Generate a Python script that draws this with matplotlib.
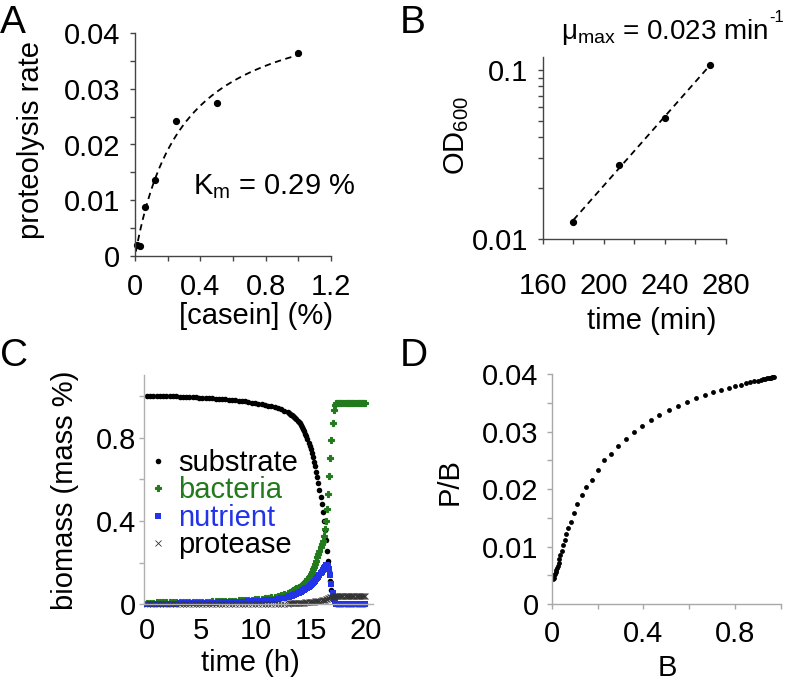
import numpy as np
import matplotlib
matplotlib.use("Agg")
import matplotlib.pyplot as plt
from matplotlib.ticker import FixedLocator, FuncFormatter, NullFormatter

plt.rcParams['font.family'] = ['Liberation Sans', 'DejaVu Sans']
plt.rcParams['mathtext.fontset'] = 'custom'
plt.rcParams['mathtext.rm'] = 'Liberation Sans'
plt.rcParams['mathtext.it'] = 'Liberation Sans'

# panel A: proteolysis rate vs casein
casein = [0.01, 0.03, 0.06, 0.125, 0.25, 0.5, 1.0]
rate = [0.0020, 0.0018, 0.0087, 0.0137, 0.0243, 0.0274, 0.0365]
km = 0.29
vmax = 0.0465

# panel B: growth curve
t_min = [180, 210, 240, 270]
od600 = [0.0127, 0.0275, 0.052, 0.107]

# panel C: simulation, three time blocks (slow phase, transition, plateau)
t_slow = [0.0, 0.3, 0.6, 0.9, 1.2, 1.5, 1.8, 2.1, 2.4, 2.7, 3.0, 3.3, 3.6, 3.9, 4.2,
          4.5, 4.8, 5.1, 5.4, 5.7, 6.0, 6.3, 6.6, 6.9, 7.2, 7.5, 7.8, 8.1, 8.4, 8.7,
          9.0, 9.3, 9.6, 9.9, 10.2, 10.5, 10.8, 11.1, 11.4, 11.7, 12.0, 12.3, 12.6, 12.9]
t_fast = [13.0, 13.1, 13.2, 13.3, 13.4, 13.5, 13.6, 13.7, 13.8, 13.9,
          14.0, 14.1, 14.2, 14.3, 14.4, 14.5, 14.6, 14.7, 14.8, 14.9,
          15.0, 15.1, 15.2, 15.3, 15.4, 15.5, 15.6, 15.7, 15.8, 15.9,
          16.0, 16.1, 16.2, 16.3, 16.4, 16.5, 16.6, 16.7, 16.8, 16.9,
          17.0, 17.1, 17.2, 17.3, 17.4, 17.5]
t_end = [17.6, 17.7, 17.8, 17.9, 18.0, 18.1, 18.2, 18.3, 18.4, 18.5, 18.6, 18.7, 18.8,
         18.9, 19.0, 19.1, 19.2, 19.3, 19.4, 19.5, 19.6, 19.7, 19.8, 19.9, 20.0]

substrate_slow = [1.000, 1.000, 1.000, 0.999, 0.999, 0.999, 0.998, 0.998, 0.997, 0.997,
                  0.996, 0.996, 0.995, 0.994, 0.994, 0.993, 0.992, 0.991, 0.990, 0.989,
                  0.988, 0.987, 0.986, 0.985, 0.983, 0.982, 0.980, 0.979, 0.977, 0.975,
                  0.973, 0.971, 0.968, 0.966, 0.963, 0.960, 0.957, 0.953, 0.950, 0.946,
                  0.941, 0.936, 0.929, 0.921]
substrate_fast = [0.918, 0.914, 0.910, 0.906, 0.902, 0.897, 0.892, 0.887, 0.881, 0.875,
                  0.868, 0.860, 0.851, 0.841, 0.830, 0.818, 0.805, 0.791, 0.776, 0.760,
                  0.743, 0.725, 0.706, 0.685, 0.662, 0.637, 0.610, 0.581, 0.550, 0.516,
                  0.480, 0.441, 0.400, 0.355, 0.307, 0.258, 0.208, 0.158, 0.110, 0.068,
                  0.036, 0.016, 0.006, 0.002, 0.001, 0.000]
substrate_end = [0.0] * len(t_end)

bacteria_slow = [0.008, 0.008, 0.008, 0.009, 0.009, 0.009, 0.009, 0.010, 0.010, 0.010,
                 0.010, 0.011, 0.011, 0.011, 0.011, 0.012, 0.012, 0.012, 0.013, 0.013,
                 0.014, 0.014, 0.015, 0.015, 0.016, 0.017, 0.017, 0.018, 0.019, 0.020,
                 0.020, 0.021, 0.023, 0.024, 0.025, 0.027, 0.029, 0.031, 0.033, 0.036,
                 0.039, 0.043, 0.048, 0.054]
bacteria_fast = [0.056, 0.058, 0.061, 0.064, 0.067, 0.070, 0.073, 0.076, 0.079, 0.082,
                 0.085, 0.088, 0.092, 0.097, 0.102, 0.107, 0.113, 0.120, 0.128, 0.137,
                 0.146, 0.156, 0.167, 0.180, 0.194, 0.209, 0.225, 0.242, 0.258, 0.273,
                 0.288, 0.306, 0.330, 0.362, 0.402, 0.455, 0.530, 0.615, 0.700, 0.790,
                 0.870, 0.930, 0.958, 0.966, 0.968, 0.968]
bacteria_end = [0.968] * len(t_end)

nutrient_slow = [0.000, 0.001, 0.001, 0.001, 0.002, 0.002, 0.002, 0.003, 0.003, 0.003,
                 0.004, 0.004, 0.004, 0.005, 0.005, 0.005, 0.006, 0.006, 0.007, 0.007,
                 0.008, 0.008, 0.009, 0.009, 0.010, 0.010, 0.011, 0.011, 0.012, 0.013,
                 0.013, 0.014, 0.015, 0.016, 0.017, 0.018, 0.019, 0.020, 0.022, 0.023,
                 0.025, 0.028, 0.031, 0.034]
nutrient_fast = [0.036, 0.038, 0.040, 0.042, 0.044, 0.046, 0.048, 0.051, 0.053, 0.056,
                 0.058, 0.061, 0.064, 0.067, 0.070, 0.073, 0.077, 0.080, 0.084, 0.088,
                 0.092, 0.097, 0.102, 0.107, 0.113, 0.119, 0.126, 0.133, 0.141, 0.149,
                 0.157, 0.165, 0.173, 0.181, 0.187, 0.190, 0.186, 0.170, 0.140, 0.098,
                 0.055, 0.025, 0.009, 0.003, 0.001, 0.000]
nutrient_end = [0.0] * len(t_end)

protease_slow = [0.000, 0.000, 0.000, 0.000, 0.000, 0.000, 0.000, 0.000, 0.000, 0.000,
                 0.000, 0.000, 0.000, 0.000, 0.001, 0.001, 0.001, 0.001, 0.001, 0.001,
                 0.001, 0.001, 0.001, 0.001, 0.001, 0.001, 0.001, 0.001, 0.002, 0.002,
                 0.002, 0.002, 0.002, 0.002, 0.002, 0.002, 0.002, 0.003, 0.003, 0.003,
                 0.003, 0.003, 0.003, 0.003]
protease_fast = [0.004, 0.004, 0.005, 0.005, 0.005, 0.005, 0.006, 0.006, 0.006, 0.007,
                 0.007, 0.007, 0.008, 0.008, 0.008, 0.009, 0.009, 0.010, 0.010, 0.011,
                 0.011, 0.012, 0.012, 0.013, 0.014, 0.014, 0.015, 0.016, 0.017, 0.018,
                 0.019, 0.020, 0.022, 0.023, 0.025, 0.027, 0.029, 0.031, 0.033, 0.035,
                 0.037, 0.038, 0.039, 0.040, 0.040, 0.040]
protease_end = [0.040] * len(t_end)

t_h = t_slow + t_fast + t_end
substrate = substrate_slow + substrate_fast + substrate_end
bacteria = bacteria_slow + bacteria_fast + bacteria_end
nutrient = nutrient_slow + nutrient_fast + nutrient_end
protease = protease_slow + protease_fast + protease_end

# panel D: P/B vs B
b_vals = [0.005, 0.008, 0.011, 0.014, 0.017, 0.020, 0.023, 0.026, 0.030, 0.034, 0.038,
          0.043, 0.049, 0.056, 0.064, 0.073, 0.084, 0.097, 0.112, 0.130, 0.150, 0.174,
          0.200, 0.228, 0.258, 0.290, 0.323, 0.358, 0.394, 0.432, 0.470, 0.510, 0.550,
          0.590, 0.630, 0.668, 0.705, 0.740, 0.772, 0.800, 0.825, 0.847, 0.866, 0.883,
          0.898, 0.911, 0.922, 0.932, 0.940, 0.947, 0.953, 0.958, 0.962, 0.965, 0.968]
pb_vals = [0.0044, 0.0046, 0.0050, 0.0053, 0.0056, 0.0059, 0.0063, 0.0067, 0.0072, 0.0078,
           0.0085, 0.0093, 0.0103, 0.0112, 0.0122, 0.0132, 0.0143, 0.0158, 0.0174, 0.0190,
           0.0203, 0.0216, 0.0234, 0.0250, 0.0262, 0.0275, 0.0288, 0.0299, 0.0310, 0.0320,
           0.0329, 0.0338, 0.0345, 0.0352, 0.0359, 0.0364, 0.0369, 0.0373, 0.0377, 0.0380,
           0.0382, 0.0384, 0.0386, 0.0388, 0.0389, 0.0390, 0.0391, 0.0392, 0.0393, 0.0393,
           0.0394, 0.0394, 0.0395, 0.0395, 0.0395]

W, H = 793, 686
FS = 21
LET = 28
green = '#237a1d'
blue = '#2233e8'


def fx(px):
    return px / W


def fy(py):
    return 1 - py / H


def fmt(v, pos):
    return '0' if v == 0 else f'{v:g}'


def style(ax, spine_col, tick_col):
    for s in ['top', 'right']:
        ax.spines[s].set_visible(False)
    for s in ['left', 'bottom']:
        ax.spines[s].set_color(spine_col)
        ax.spines[s].set_linewidth(1.0)
    ax.tick_params(which='both', color=tick_col, width=1.0, length=3.5,
                   labelsize=FS, direction='out')


fig = plt.figure(figsize=(W / 100, H / 100), dpi=100)

# ---- A
axA = fig.add_axes([fx(135), fy(256), fx(331) - fx(135), fy(33) - fy(256)])
style(axA, '#444444', '#444444')
xs = np.linspace(0.005, 1.0, 200)
axA.plot(xs, vmax * xs / (km + xs), color='black', lw=1.3, ls=(0, (3.5, 2.5)))
axA.plot(casein, rate, 'o', color='black', ms=4.2, clip_on=False)
axA.set_xlim(0, 1.2)
axA.set_ylim(0, 0.04)
axA.xaxis.set_major_locator(FixedLocator([0, 0.4, 0.8, 1.2]))
axA.xaxis.set_minor_locator(FixedLocator([0.2, 0.6, 1.0]))
axA.yaxis.set_major_locator(FixedLocator([0, 0.01, 0.02, 0.03, 0.04]))
axA.yaxis.set_minor_locator(FixedLocator([0.005, 0.015, 0.025, 0.035]))
axA.xaxis.set_major_formatter(FuncFormatter(fmt))
axA.yaxis.set_major_formatter(FuncFormatter(fmt))
axA.tick_params(axis='x', which='both', pad=9)
axA.tick_params(axis='y', which='both', pad=7)
axA.text(0.355, 0.0125, r'K$_\mathregular{m}$ = 0.29 %', fontsize=FS, va='center', ha='left')
fig.text(fx(31), fy(140), 'proteolysis rate', rotation=90, ha='center', va='center', fontsize=FS)
fig.text(fx(256), fy(316), '[casein] (%)', ha='center', va='center', fontsize=FS)
fig.text(fx(0), fy(5), 'A', ha='left', va='top', fontsize=LET)

# ---- B
axB = fig.add_axes([fx(543), fy(239.3), fx(725.7) - fx(543), fy(57) - fy(239.3)])
style(axB, '#444444', '#444444')
axB.set_yscale('log')
coef = np.polyfit(t_min, np.log(od600), 1)
tt = np.array([t_min[0], t_min[-1]])
axB.plot(tt, np.exp(np.polyval(coef, tt)), color='black', lw=1.3, ls=(0, (3.5, 2.5)))
axB.plot(t_min, od600, 'o', color='black', ms=4.2)
axB.set_xlim(160, 280)
axB.set_ylim(0.01, 0.119)
axB.xaxis.set_major_locator(FixedLocator([160, 200, 240, 280]))
axB.xaxis.set_minor_locator(FixedLocator([180, 220, 260]))
axB.yaxis.set_major_locator(FixedLocator([0.01, 0.1]))
axB.yaxis.set_minor_locator(FixedLocator([0.02, 0.03, 0.04, 0.05, 0.06, 0.07, 0.08, 0.09]))
axB.yaxis.set_major_formatter(FuncFormatter(lambda v, p: f'{v:g}'))
axB.yaxis.set_minor_formatter(NullFormatter())
axB.tick_params(axis='x', which='both', pad=20)
axB.tick_params(axis='y', which='both', pad=7)
fig.text(fx(457), fy(135), r'OD$_\mathregular{600}$', rotation=90, ha='center', va='center', fontsize=FS)
fig.text(fx(652), fy(321), 'time (min)', ha='center', va='center', fontsize=FS)
mu = fig.text(fx(561), fy(32), r'$\mathregular{\mu_{max}}$ = 0.023 min',
              ha='left', va='center', fontsize=20)
fig.canvas.draw()
bb = mu.get_window_extent()
fig.text((bb.x1 + 1) / W, fy(10), '-1', ha='left', va='top', fontsize=12)
fig.text(fx(400), fy(5), 'B', ha='left', va='top', fontsize=LET)

# ---- C
axC = fig.add_axes([fx(144), fy(604.3), fx(373) - fx(144), fy(375) - fy(604.3)])
style(axC, '#b0b0b0', '#b0b0b0')
axC.plot(t_h, substrate, 'o', color='black', ms=4.0, mew=0, clip_on=False, label='substrate')
axC.plot(t_h, bacteria, 'P', color=green, ms=4.2, mew=0.8, mec=green, clip_on=False,
         label='bacteria')
axC.plot(t_h, nutrient, 's', color=blue, ms=4.4, mew=0, clip_on=False, label='nutrient')
axC.plot(t_h, protease, 'x', color='#333333', ms=4.0, mew=0.6, clip_on=False, label='protease')
axC.set_xlim(-0.25, 20.7)
axC.set_ylim(0, 1.1)
axC.xaxis.set_major_locator(FixedLocator([0, 5, 10, 15, 20]))
axC.yaxis.set_major_locator(FixedLocator([0, 0.4, 0.8]))
axC.yaxis.set_minor_locator(FixedLocator([0.2, 0.6, 1.0]))
axC.yaxis.set_major_formatter(FuncFormatter(fmt))
axC.tick_params(axis='x', which='both', length=0, pad=9)
axC.tick_params(axis='y', which='both', pad=2)
leg = axC.legend(loc='upper left', bbox_to_anchor=(fx(146), fy(449)),
                 bbox_transform=fig.transFigure, frameon=False, fontsize=FS,
                 borderpad=0, borderaxespad=0, handlelength=0.8, handletextpad=0.3,
                 labelspacing=-0.02, markerscale=1.0)
for txt, col in zip(leg.get_texts(), ['black', green, blue, 'black']):
    txt.set_color(col)
fig.text(fx(65), fy(490), 'biomass (mass %)', rotation=90, ha='center', va='center', fontsize=FS)
fig.text(fx(250), fy(663), 'time (h)', ha='center', va='center', fontsize=FS)
fig.text(fx(0), fy(338), 'C', ha='left', va='top', fontsize=LET)

# ---- D
axD = fig.add_axes([fx(551.7), fy(604), fx(781) - fx(551.7), fy(374.3) - fy(604)])
style(axD, '#a8a8a8', '#a8a8a8')
axD.plot(b_vals, pb_vals, 'o', color='black', ms=3.5, mew=0)
axD.set_xlim(0, 1.0)
axD.set_ylim(0, 0.04)
axD.xaxis.set_major_locator(FixedLocator([0, 0.4, 0.8]))
axD.xaxis.set_minor_locator(FixedLocator([0.2, 0.6, 1.0]))
axD.yaxis.set_major_locator(FixedLocator([0, 0.01, 0.02, 0.03, 0.04]))
axD.yaxis.set_minor_locator(FixedLocator([0.005, 0.015, 0.025, 0.035]))
axD.xaxis.set_major_formatter(FuncFormatter(fmt))
axD.yaxis.set_major_formatter(FuncFormatter(fmt))
axD.tick_params(axis='x', which='both', pad=8)
axD.tick_params(axis='y', which='both', pad=6)
fig.text(fx(450), fy(482), 'P/B', rotation=90, ha='center', va='center', fontsize=FS)
fig.text(fx(667), fy(668), 'B', ha='center', va='center', fontsize=FS)
fig.text(fx(400), fy(338), 'D', ha='left', va='top', fontsize=LET)

fig.savefig('out.png', dpi=100)
